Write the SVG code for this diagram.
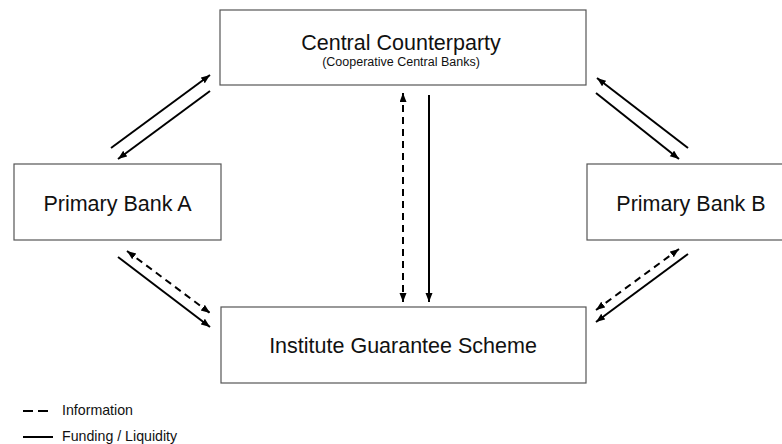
<svg xmlns="http://www.w3.org/2000/svg" width="782" height="444" viewBox="0 0 782 444">
<style>
.box{fill:#fff;stroke:#555;stroke-width:1.2}
.t{font-family:"Liberation Sans",Arial,sans-serif;fill:#111;text-anchor:middle}
.big{font-size:21.5px}
.sub{font-size:12.5px}
.leg{font-family:"Liberation Sans",Arial,sans-serif;fill:#111;font-size:14.2px}
.s{stroke:#000;stroke-width:2;fill:none}
.d{stroke:#000;stroke-width:2;fill:none;stroke-dasharray:7 5}
</style>
<defs>
<marker id="ah" markerUnits="userSpaceOnUse" markerWidth="10" markerHeight="8" refX="9" refY="3.5" orient="auto-start-reverse">
<path d="M0,0 L9,3.5 L0,7 z" fill="#000"/>
</marker>
</defs>
<rect width="782" height="444" fill="#fff"/>
<g id="central">
<rect class="box" x="220" y="10" width="366" height="75"/>
<text class="t big" x="401" y="50">Central Counterparty</text>
<text class="t sub" x="401" y="66">(Cooperative Central Banks)</text>
</g>
<g id="bankA">
<rect class="box" x="14" y="164" width="207" height="76"/>
<text class="t big" x="117.5" y="211">Primary Bank A</text>
</g>
<g id="bankB">
<rect class="box" x="587" y="164" width="208" height="76"/>
<text class="t big" x="691" y="211">Primary Bank B</text>
</g>
<g id="igs">
<rect class="box" x="221" y="307" width="365" height="76"/>
<text class="t big" x="403" y="353">Institute Guarantee Scheme</text>
</g>
<g id="connectors">
<line class="s" x1="111" y1="148" x2="210" y2="75" marker-end="url(#ah)"/>
<line class="s" x1="210" y1="91" x2="118" y2="159" marker-end="url(#ah)"/>
<line class="s" x1="688" y1="148" x2="597" y2="78" marker-end="url(#ah)"/>
<line class="s" x1="596" y1="93" x2="679" y2="159" marker-end="url(#ah)"/>
<line class="s" x1="429" y1="95" x2="429" y2="302" marker-end="url(#ah)"/>
<line class="s" x1="118" y1="257" x2="210" y2="327" marker-end="url(#ah)"/>
<line class="s" x1="688" y1="254" x2="596" y2="322" marker-end="url(#ah)"/>
<line class="d" x1="403" y1="93" x2="403" y2="302" marker-start="url(#ah)" marker-end="url(#ah)"/>
<line class="d" x1="127" y1="251" x2="210" y2="313" marker-start="url(#ah)" marker-end="url(#ah)"/>
<line class="d" x1="679" y1="249" x2="596" y2="310" marker-start="url(#ah)" marker-end="url(#ah)"/>
</g>
<g id="legend">
<line class="s" x1="23" y1="411" x2="33" y2="411"/>
<line class="s" x1="38" y1="411" x2="48" y2="411"/>
<text class="leg" x="62" y="415">Information</text>
<line class="s" x1="23" y1="437" x2="53" y2="437"/>
<text class="leg" x="62" y="441">Funding / Liquidity</text>
</g>
</svg>
